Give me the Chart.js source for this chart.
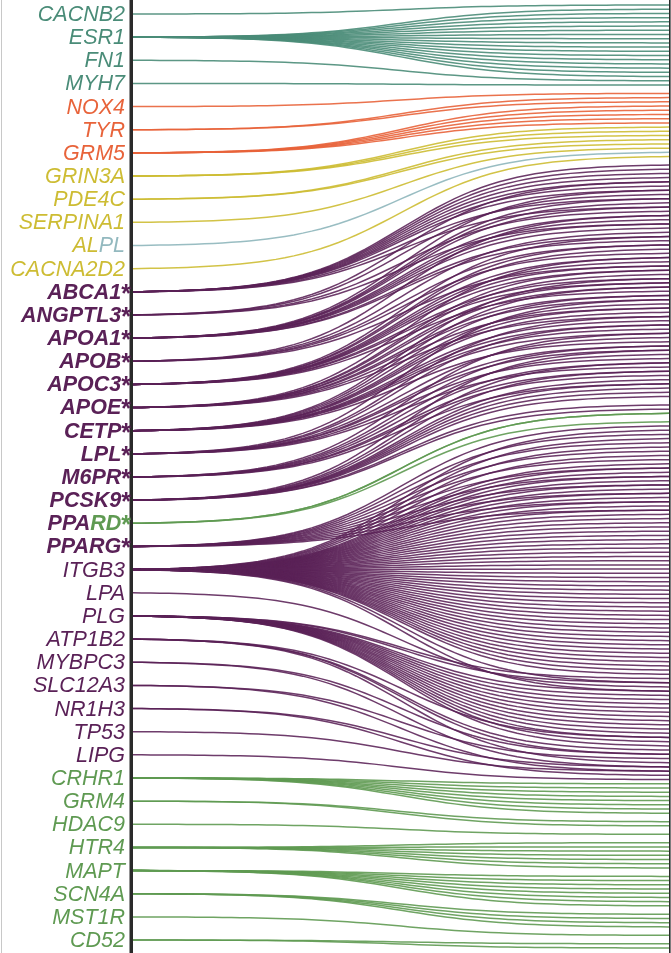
<!DOCTYPE html>
<html>
<head>
<meta charset="utf-8">
<title>Gene links</title>
<script src="https://cdn.jsdelivr.net/npm/chart.js@4.4.1/dist/chart.umd.min.js"></script>
<style>
    html, body { margin: 0; padding: 0; background: #fff; }
    #wrap { width: 671px; height: 953px; }
</style>
</head>
<body>
<div id="wrap"><canvas id="linkChart" width="671" height="953"></canvas></div>
<script>
// Genes on the left axis, top to bottom
const genes = [
    'CACNB2', 'ESR1', 'FN1', 'MYH7', 'NOX4', 'TYR', 'GRM5', 'GRIN3A', 'PDE4C', 'SERPINA1',
    'ALPL', 'CACNA2D2', 'ABCA1', 'ANGPTL3', 'APOA1', 'APOB', 'APOC3', 'APOE', 'CETP', 'LPL',
    'M6PR', 'PCSK9', 'PPARD', 'PPARG', 'ITGB3', 'LPA', 'PLG', 'ATP1B2', 'MYBPC3', 'SLC12A3',
    'NR1H3', 'TP53', 'LIPG', 'CRHR1', 'GRM4', 'HDAC9', 'HTR4', 'MAPT', 'SCN4A', 'MST1R', 'CD52'
];

// Colour group of each gene's links
const lineGroup = [
    'teal', 'teal', 'teal', 'teal', 'orange', 'orange', 'orange', 'yellow', 'yellow', 'yellow',
    'blue', 'yellow', 'purple', 'purple', 'purple', 'purple', 'purple', 'purple', 'purple', 'purple',
    'purple', 'purple', 'green', 'purple', 'purple', 'purple', 'purple', 'purple', 'purple', 'purple',
    'purple', 'purple', 'purple', 'green', 'green', 'green', 'green', 'green', 'green', 'green', 'green'
];

const starred = ['ABCA1', 'ANGPTL3', 'APOA1', 'APOB', 'APOC3', 'APOE', 'CETP', 'LPL', 'M6PR', 'PCSK9', 'PPARD', 'PPARG'];

// Labels printed in two colours
const labelParts = {
    ALPL: [['AL', 'yellow'], ['PL', 'blue']],
    PPARD: [['PPA', 'purple'], ['RD', 'green']]
};

// Right-hand target rank (0 = top) reached by each gene's links
const linkTargets = [
    [0],
    [1, 2, 3, 4, 5, 6, 7, 8, 9, 10, 11, 12, 13, 14, 15, 16, 17],
    [18],
    [19],
    [21],
    [22, 23],
    [24, 25, 26, 27, 28],
    [29, 30, 31],
    [32, 33],
    [34],
    [35],
    [36],
    [38, 39, 40, 41, 42, 43, 44, 46, 48],
    [42, 45, 49, 52],
    [44, 46, 47, 48, 50, 51, 52, 53, 55, 56],
    [50, 54, 57, 59, 62],
    [55, 57, 58, 60, 61, 62, 63, 65, 66, 68],
    [60, 63, 64, 66, 67, 69, 70, 72, 74],
    [65, 67, 69, 71, 72, 73, 75, 76, 77, 78, 80],
    [70, 74, 76, 79, 81, 82, 84, 86],
    [78, 81, 83, 85, 87, 88, 90],
    [82, 85, 87, 89, 90, 91, 92, 93, 95, 96],
    [97, 97, 99],
    [100, 102, 104, 106, 108, 110, 112, 114, 116, 118, 120],
    [101, 103, 105, 107, 109, 110, 111, 112, 113, 114, 115, 116, 117, 118, 119, 120, 121, 122, 123,
     124, 125, 126, 127, 128, 129, 130, 131, 132, 133, 134, 135, 136, 137, 138, 139, 140, 141, 142,
     143, 144, 145, 146, 147, 148, 149, 150, 151, 152, 153, 154, 155, 156, 157, 158, 159, 161, 163],
    [162],
    [160, 161, 163, 164, 165, 166, 167, 168, 169, 170, 171, 172, 173, 174, 175, 176],
    [174, 177, 178, 180],
    [178, 181],
    [179, 182],
    [181, 183],
    [182],
    [184],
    [185, 186, 187, 188, 189, 190, 191, 192],
    [194, 195],
    [197],
    [199, 200, 201, 202, 203, 204, 205],
    [207, 208, 209, 210, 211, 212, 213, 214],
    [216, 217, 218, 219],
    [221],
    [223, 224]
];

const palette = {
    teal: '#4a8c78',
    orange: '#e8633a',
    yellow: '#cdbc33',
    blue: '#93b9bf',
    purple: '#5a2157',
    green: '#5f9a52'
};

const lineAlpha = {
    teal: 'rgba(74, 140, 120, 0.9)',
    orange: 'rgba(232, 99, 58, 0.9)',
    yellow: 'rgba(205, 188, 51, 0.9)',
    blue: 'rgba(147, 185, 191, 0.95)',
    purple: 'rgba(90, 33, 87, 0.88)',
    green: 'rgba(95, 154, 82, 0.9)'
};

// Sigmoid links from each gene to its targets
const linkPlugin = {
    id: 'sigmoidLinks',
    afterDatasetsDraw(chart) {
        const ctx = chart.ctx;
        const x0 = chart.scales.x.getPixelForValue(0);
        const lo = 1 / (1 + Math.exp(5));
        const hi = 1 / (1 + Math.exp(-5));
        ctx.save();
        ctx.lineWidth = 1.5;
        ctx.lineCap = 'round';
        chart.data.datasets.forEach((ds, i) => {
            const meta = chart.getDatasetMeta(i);
            const y0 = chart.scales.y.getPixelForValue(i);
            ctx.strokeStyle = ds.borderColor;
            meta.data.forEach(pt => {
                ctx.beginPath();
                for (let j = 0; j <= 60; j++) {
                    const s = j / 60;
                    const f = (1 / (1 + Math.exp(-(s * 10 - 5))) - lo) / (hi - lo);
                    const px = x0 + (pt.x - x0) * s;
                    const py = y0 + (pt.y - y0) * f;
                    if (j === 0) ctx.moveTo(px, py); else ctx.lineTo(px, py);
                }
                ctx.stroke();
            });
        });
        ctx.restore();
    }
};

// Axis bars and coloured gene labels
const axisPlugin = {
    id: 'geneAxis',
    afterDraw(chart) {
        const ctx = chart.ctx;
        const area = chart.chartArea;
        const ys = chart.scales.y;
        ctx.save();
        ctx.fillStyle = '#c8c8c8';
        ctx.fillRect(1, 0, 1, chart.height);
        ctx.fillStyle = '#2a2a2a';
        ctx.fillRect(area.left - 3.5, 0, 3.5, chart.height);
        ctx.fillRect(area.right, 0, 1.6, chart.height);

        ctx.textAlign = 'right';
        ctx.textBaseline = 'middle';
        genes.forEach((g, i) => {
            const y = ys.getPixelForValue(i) + 1;
            const star = starred.includes(g);
            const segs = labelParts[g] || [[g, lineGroup[i]]];
            let x = star ? 131 : 125;
            if (star) {
                ctx.font = 'bold 25px "Liberation Sans", Arial, sans-serif';
                ctx.fillStyle = palette[segs[segs.length - 1][1]];
                ctx.fillText('*', x, y + 2);
                x -= ctx.measureText('*').width;
            }
            ctx.font = `italic ${star ? 'bold ' : ''}21.5px "Liberation Sans", Arial, sans-serif`;
            for (let p = segs.length - 1; p >= 0; p--) {
                ctx.fillStyle = palette[segs[p][1]];
                ctx.fillText(segs[p][0], x, y);
                x -= ctx.measureText(segs[p][0]).width;
            }
        });
        ctx.restore();
    }
};

document.addEventListener('DOMContentLoaded', () => {
    const ctx = document.getElementById('linkChart').getContext('2d');
    new Chart(ctx, {
        type: 'scatter',
        data: {
            datasets: genes.map((g, i) => ({
                label: g,
                data: linkTargets[i].map(t => ({ x: 1, y: t })),
                yAxisID: 'target',
                borderColor: lineAlpha[lineGroup[i]],
                pointRadius: 0,
                showLine: false
            }))
        },
        options: {
            responsive: false,
            animation: false,
            layout: { padding: { left: 0, right: 2, top: 0, bottom: 0 } },
            plugins: {
                legend: { display: false },
                tooltip: { enabled: false }
            },
            scales: {
                x: { type: 'linear', min: 0, max: 1, display: false },
                y: {
                    type: 'linear',
                    position: 'left',
                    reverse: true,
                    min: -0.605,
                    max: 40.56,
                    ticks: { display: false },
                    grid: { display: false },
                    border: { display: false },
                    afterFit: scale => { scale.width = 133; }
                },
                target: {
                    type: 'linear',
                    position: 'right',
                    reverse: true,
                    min: -1.19,
                    max: 225.2,
                    display: false
                }
            }
        },
        plugins: [linkPlugin, axisPlugin]
    });
});
</script>
</body>
</html>
